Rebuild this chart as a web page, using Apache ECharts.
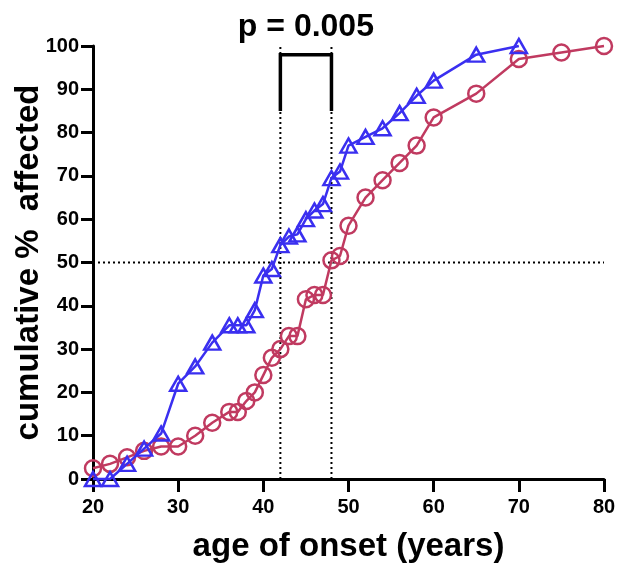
<!DOCTYPE html>
<html>
<head>
<meta charset="utf-8">
<script src="https://cdn.jsdelivr.net/npm/echarts@6/dist/echarts.min.js"></script>
<style>
  html, body { margin: 0; padding: 0; background: #fff; }
  #chart { width: 619px; height: 564px; }
</style>
</head>
<body>
<div id="chart"></div>
<script>
// ---- data ----
const blueAges = [20, 22, 24, 26, 28, 30, 32, 34, 36, 37, 38, 39, 40, 41, 42, 43, 44, 45, 46, 47, 48, 49, 50, 52, 54, 56, 58, 60, 65, 70];
const blueCum  = [0, 0, 3.5, 7, 10.5, 22, 26, 31.5, 35.5, 35.5, 35.5, 39, 47, 48.5, 54, 56, 56.5, 60, 62, 63.5, 69.5, 71, 77, 79, 81, 84.5, 88.5, 92, 98, 100];
const redAges  = [20, 22, 24, 26, 28, 30, 32, 34, 36, 37, 38, 39, 40, 41, 42, 43, 44, 45, 46, 47, 48, 49, 50, 52, 54, 56, 58, 60, 65, 70, 75, 80];
const redCum   = [2.5, 3.5, 5, 6.5, 7.5, 7.5, 10, 13, 15.5, 15.5, 18, 20, 24, 28, 30, 33, 33, 41.5, 42.5, 42.5, 50.5, 51.5, 58.5, 65, 69, 73, 77, 83.5, 89, 97, 98.5, 100];
const xTicks = [20, 30, 40, 50, 60, 70, 80];
const yTicks = [0, 10, 20, 30, 40, 50, 60, 70, 80, 90, 100];
const medianAges = [42, 48];
const halfLevel = 50;
const bracketRange = [85, 98];
const pLabel = 'p = 0.005';
const pLabelY = 104.3;

const FONT = '"Liberation Sans", Arial, Helvetica, sans-serif';
const BLUE = '#3a2ff0';
const RED = '#c03a60';

const zip = (xs, ys) => xs.map((x, i) => [x, ys[i]]);

const dotted = { color: '#000', width: 2, type: [2, 3] };

const chart = echarts.init(document.getElementById('chart'), null, { renderer: 'canvas' });
chart.setOption({
  animation: false,
  backgroundColor: '#fff',
  grid: { left: 93, right: 15, top: 46, bottom: 85, containLabel: false, outerBoundsMode: 'none' },
  xAxis: {
    type: 'value', min: xTicks[0], max: xTicks[xTicks.length - 1], interval: 10,
    name: 'age of onset (years)', nameLocation: 'middle', nameGap: 51, nameMoveOverlap: false,
    nameTextStyle: { fontFamily: FONT, fontWeight: 'bold', fontSize: 33, color: '#000' },
    axisLine: { show: true, onZero: false, lineStyle: { color: '#000', width: 3 } },
    axisTick: { show: true, length: 13, lineStyle: { color: '#000', width: 3 } },
    axisLabel: { fontFamily: FONT, fontWeight: 'bold', fontSize: 20, color: '#000', margin: 18 },
    splitLine: { show: false }
  },
  yAxis: {
    type: 'value', min: yTicks[0], max: yTicks[yTicks.length - 1], interval: 10,
    name: 'cumulative %  affected', nameLocation: 'middle', nameGap: 48, nameRotate: 90, nameMoveOverlap: false,
    nameTextStyle: { fontFamily: FONT, fontWeight: 'bold', fontSize: 33, color: '#000' },
    axisLine: { show: true, onZero: false, lineStyle: { color: '#000', width: 3 } },
    axisTick: { show: true, length: 12, lineStyle: { color: '#000', width: 3 } },
    axisLabel: { fontFamily: FONT, fontWeight: 'bold', fontSize: 20, color: '#000', margin: 14 },
    splitLine: { show: false }
  },
  series: [
    {
      type: 'line', name: 'guides-h', silent: true, symbol: 'none', z: 1,
      data: [[xTicks[0], halfLevel], [xTicks[xTicks.length - 1], halfLevel]],
      lineStyle: dotted
    },
    {
      type: 'line', name: 'guides-v1', silent: true, symbol: 'none', z: 1,
      data: [[medianAges[0], yTicks[0]], [medianAges[0], yTicks[yTicks.length - 1]]],
      lineStyle: dotted
    },
    {
      type: 'line', name: 'guides-v2', silent: true, symbol: 'none', z: 1,
      data: [[medianAges[1], yTicks[0]], [medianAges[1], yTicks[yTicks.length - 1]]],
      lineStyle: dotted
    },
    {
      type: 'line', name: 'bracket', silent: true, symbol: 'none', z: 3,
      data: [[medianAges[0], bracketRange[0]], [medianAges[0], bracketRange[1]],
             [medianAges[1], bracketRange[1]], [medianAges[1], bracketRange[0]]],
      lineStyle: { color: '#000', width: 3.5, join: 'miter' }
    },
    {
      type: 'scatter', name: 'plabel', silent: true, symbolSize: 1, clip: false,
      data: [[(medianAges[0] + medianAges[1]) / 2, pLabelY]],
      itemStyle: { opacity: 1, color: 'rgba(0,0,0,0)' },
      label: { show: true, position: 'inside', formatter: pLabel, opacity: 1,
               fontFamily: FONT, fontWeight: 'bold', fontSize: 32, color: '#000' }
    },
    {
      type: 'line', name: 'red', clip: false, z: 4,
      data: zip(redAges, redCum),
      symbol: 'circle', symbolSize: 16, showAllSymbol: true,
      lineStyle: { color: RED, width: 2.5 },
      itemStyle: { color: 'rgba(0,0,0,0)', borderColor: RED, borderWidth: 2.5 }
    },
    {
      type: 'line', name: 'blue', clip: false, z: 5,
      data: zip(blueAges, blueCum),
      symbol: 'triangle', symbolSize: [16, 14], showAllSymbol: true,
      lineStyle: { color: BLUE, width: 2.5 },
      itemStyle: { color: 'rgba(0,0,0,0)', borderColor: BLUE, borderWidth: 2.5 }
    }
  ]
});
</script>
</body>
</html>
